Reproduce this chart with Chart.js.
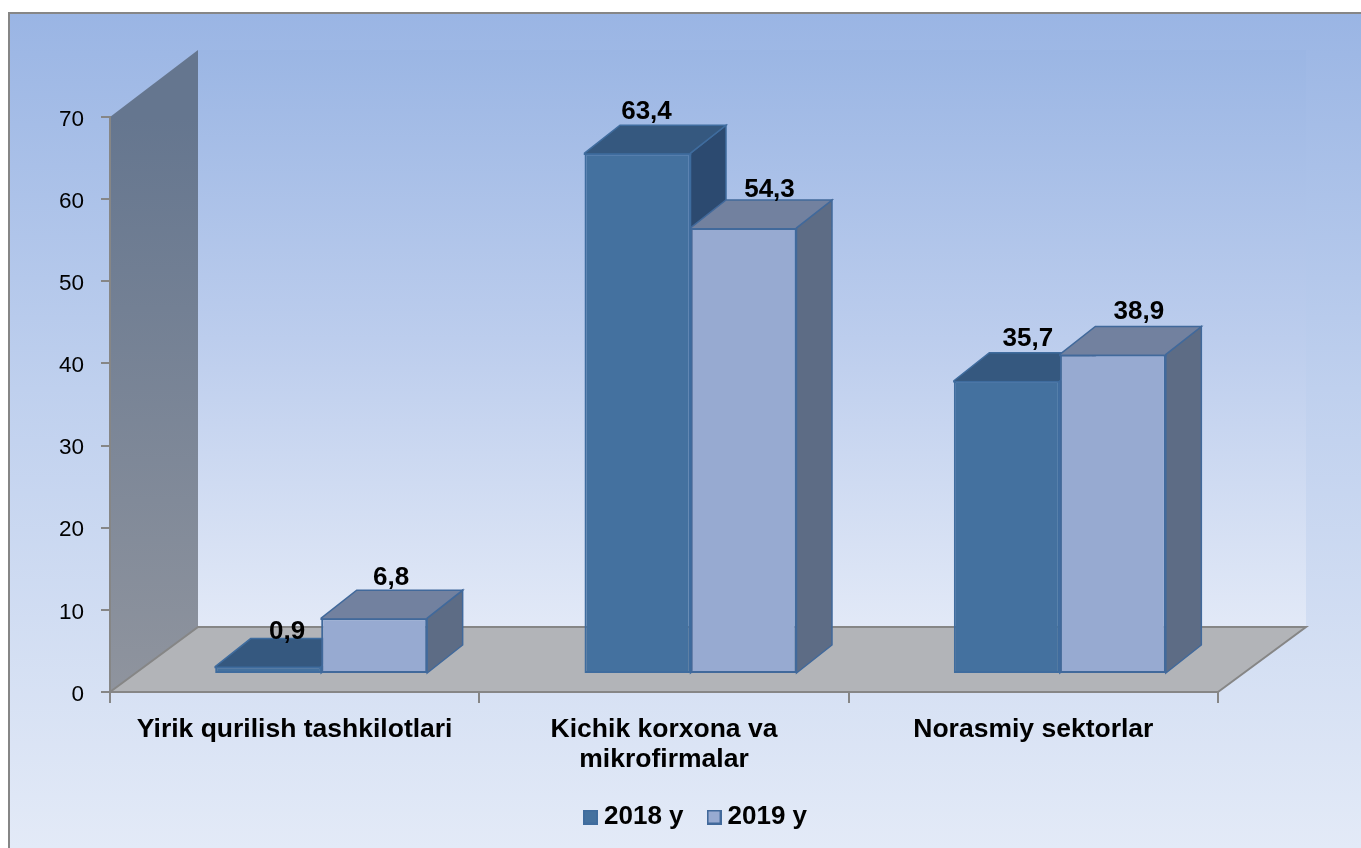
<!DOCTYPE html>
<html>
<head>
<meta charset="utf-8">
<title>Chart</title>
<script src="https://cdn.jsdelivr.net/npm/chart.js@4"></script>
<style>
  html, body { margin: 0; padding: 0; background: #fff; overflow: hidden; }
  canvas { display: block; }
</style>
</head>
<body>
<canvas id="c" width="1361" height="848"></canvas>
<script>
const categories = [['Yirik qurilish tashkilotlari'], ['Kichik korxona va', 'mikrofirmalar'], ['Norasmiy sektorlar']];
const series2018 = [0.9, 63.4, 35.7];
const series2019 = [6.8, 54.3, 38.9];
const seriesNames = ['2018 y', '2019 y'];

const fontFamily = '"Liberation Sans", Arial, sans-serif';
const GRAY = '#868686';

// depth of the fake 3D: walls/floor, and the bars standing on the floor
const WALL = { dx: 88, dy: 65 };
const BAR = { dx: 35.5, dy: 28, shiftX: 26.5, shiftY: -18 };
const LOOK = [
  { front: '#44719F', top: '#35587F', side: '#2C4A70', line: '#3F6C9E' },
  { front: '#97AAD1', top: '#72819F', side: '#5D6C85', line: '#41699B' },
];
// data labels were placed by hand in the original
const labelShift = [
  [[19, -34.5], [9, -41], [21, -41.5]],
  [[17, -40.5], [26, -38.5], [26, -43]],
];

function marker(look) {
  const m = document.createElement('canvas');
  m.width = 15; m.height = 15;
  const x = m.getContext('2d');
  x.fillStyle = look.front; x.fillRect(0, 0, 15, 15);
  x.strokeStyle = look.line; x.lineWidth = 2; x.strokeRect(1, 1, 13, 13);
  return m;
}

function poly(ctx, pts, fill, stroke) {
  ctx.beginPath();
  pts.forEach((p, i) => (i ? ctx.lineTo(p[0], p[1]) : ctx.moveTo(p[0], p[1])));
  ctx.closePath();
  ctx.fillStyle = fill; ctx.fill();
  if (stroke) { ctx.strokeStyle = stroke; ctx.lineWidth = 1.5; ctx.stroke(); }
}

const scenery = {
  id: 'scenery',
  beforeDraw(chart) {
    const { ctx, chartArea: a } = chart;
    ctx.save();
    ctx.fillStyle = '#fff'; ctx.fillRect(0, 0, chart.width, chart.height);
    const bg = ctx.createLinearGradient(0, 13, 0, 848);
    bg.addColorStop(0, '#9AB5E4'); bg.addColorStop(0.45, '#BFD0EE'); bg.addColorStop(1, '#E3EAF7');
    ctx.fillStyle = bg; ctx.fillRect(9, 13, chart.width, chart.height);
    ctx.strokeStyle = GRAY; ctx.lineWidth = 2;
    ctx.beginPath(); ctx.moveTo(9, chart.height); ctx.lineTo(9, 13); ctx.lineTo(chart.width, 13); ctx.stroke();

    const bx = a.left + WALL.dx, by = a.bottom - WALL.dy, tx = a.right + WALL.dx, ty = a.top - 67;
    const wall = ctx.createLinearGradient(0, ty, 0, by);
    wall.addColorStop(0, '#9BB6E4'); wall.addColorStop(0.5, '#BCCDED'); wall.addColorStop(1, '#E2E9F7');
    ctx.fillStyle = wall; ctx.fillRect(bx, ty, tx - bx, by - ty);
    const sw = ctx.createLinearGradient(0, a.top, 0, a.bottom);
    sw.addColorStop(0, '#65768F'); sw.addColorStop(1, '#8F949E');
    poly(ctx, [[a.left, a.top], [bx, ty], [bx, by], [a.left, a.bottom]], sw);
    poly(ctx, [[a.left, a.bottom], [bx, by], [tx, by], [a.right, a.bottom]], '#B2B4B8');
    ctx.strokeStyle = GRAY; ctx.lineWidth = 2;
    ctx.beginPath(); ctx.moveTo(a.left, a.bottom); ctx.lineTo(bx, by); ctx.lineTo(tx, by); ctx.lineTo(a.right, a.bottom); ctx.stroke();
    ctx.restore();

    const lg = chart.legend; // legend sits right of the plot centre
    lg.left = 560; lg.right = 1000; lg.top = 774;
  },
  beforeDatasetsDraw(chart) {
    const { ctx } = chart;
    ctx.save();
    ctx.translate(BAR.shiftX, BAR.shiftY);
    // tops and sides first, 2018 before 2019, the library paints the fronts over them
    [0, 1].forEach((d) => {
      const look = LOOK[d];
      chart.getDatasetMeta(d).data.forEach((b) => {
        const l = b.x - b.width / 2, r = b.x + b.width / 2, t = b.y, f = b.base;
        poly(ctx, [[r, t], [r + BAR.dx, t - BAR.dy], [r + BAR.dx, f - BAR.dy], [r, f]], look.side, look.line);
        // top runs a pixel under the front so nothing shows through at its edge
        poly(ctx, [[l, t + 1], [l, t], [l + BAR.dx, t - BAR.dy], [r + BAR.dx, t - BAR.dy], [r, t], [r, t + 1]], look.top, look.line);
      });
    });
  },
  afterDatasetsDraw(chart) {
    const { ctx } = chart;
    ctx.restore();
    ctx.save();
    ctx.font = 'bold 26px ' + fontFamily;
    ctx.fillStyle = '#000'; ctx.textAlign = 'center'; ctx.textBaseline = 'middle';
    [0, 1].forEach((d) => {
      chart.getDatasetMeta(d).data.forEach((b, i) => {
        const v = chart.data.datasets[d].data[i];
        const s = labelShift[d][i];
        ctx.fillText(String(v).replace('.', ','), b.x + BAR.shiftX + s[0], b.y + BAR.shiftY + s[1]);
      });
    });
    ctx.restore();
  },
};

new Chart(document.getElementById('c'), {
  type: 'bar',
  data: {
    labels: categories,
    datasets: [
      { label: seriesNames[0], data: series2018, backgroundColor: LOOK[0].front, borderColor: LOOK[0].line, borderWidth: 2, borderSkipped: false },
      { label: seriesNames[1], data: series2019, backgroundColor: LOOK[1].front, borderColor: LOOK[1].line, borderWidth: 2, borderSkipped: false },
    ],
  },
  options: {
    responsive: false, animation: false, devicePixelRatio: 1,
    layout: { padding: { left: 0, top: 117, right: 143, bottom: 0 } },
    datasets: { bar: { barPercentage: 1, categoryPercentage: 0.574 } },
    plugins: {
      tooltip: { enabled: false },
      legend: {
        position: 'bottom', align: 'start',
        labels: {
          usePointStyle: true, pointStyleWidth: 1, padding: 30,
          color: '#000', font: { family: fontFamily, size: 26, weight: 'bold' },
          generateLabels: (chart) => chart.data.datasets.map((ds, i) => ({
            text: ds.label, datasetIndex: i, pointStyle: marker(LOOK[i]), fontColor: '#000', lineWidth: 0,
          })),
        },
      },
    },
    scales: {
      x: {
        offset: true,
        afterFit: (s) => { s.height = 90; },
        grid: { offset: true, drawOnChartArea: false, color: GRAY, tickLength: 11, lineWidth: 2 },
        border: { color: GRAY, width: 2 },
        ticks: { color: '#000', maxRotation: 0, autoSkip: false, padding: 12, font: { family: fontFamily, size: 26.5, weight: 'bold', lineHeight: 1.13 } },
      },
      y: {
        min: 0, max: 70,
        afterFit: (s) => { s.width = 110; },
        grid: { drawOnChartArea: false, color: GRAY, tickLength: 9, lineWidth: 2 },
        border: { color: GRAY, width: 2 },
        ticks: { stepSize: 10, color: '#000', padding: 17, labelOffset: 2.5, font: { family: fontFamily, size: 22.5 } },
      },
    },
  },
  plugins: [scenery],
});
</script>
</body>
</html>
